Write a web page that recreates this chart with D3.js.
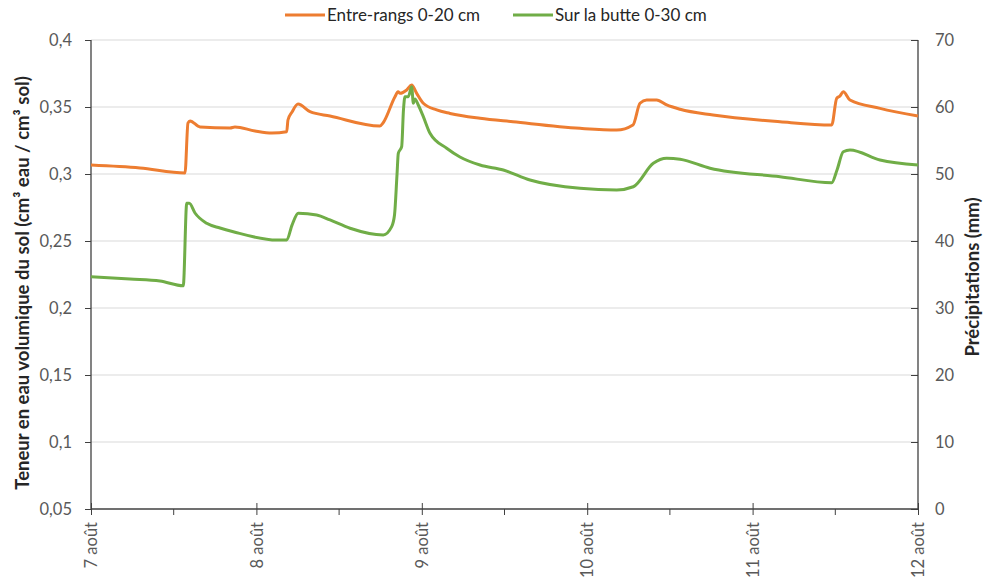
<!DOCTYPE html>
<html>
<head>
<meta charset="utf-8">
<script src="https://cdn.jsdelivr.net/npm/d3@7"></script>
<style>
  body { margin: 0; background: #fff; }
  text { font-family: Lato, "Open Sans", sans-serif; }
</style>
</head>
<body>
<div id="chart"></div>
<script>
'use strict';

// time in hours from 7 août 00:00, value in cm3/cm3
var entreRangsHours = [0, 7.1, 13.64, 14.07, 14.37, 15.82, 20.17, 20.89, 23.8, 26.26, 28.4, 28.58, 29.17, 30.04, 31.78, 34.68, 41.91, 42.37, 44.11, 44.55, 44.84, 45.81, 46.53, 47.26, 48.22, 50.16, 52.1, 56.45, 61.23, 70.96, 76.28, 78.64, 79.66, 80.63, 82.08, 83.54, 85.47, 90.26, 99.98, 107.48, 108.2, 108.68, 109.16, 110.13, 114.49, 120];
var entreRangsValues = [0.3067, 0.3045, 0.3007, 0.338, 0.3396, 0.3351, 0.3343, 0.3351, 0.3321, 0.3306, 0.3316, 0.3403, 0.3463, 0.3522, 0.3465, 0.3433, 0.3358, 0.3381, 0.3577, 0.3614, 0.3602, 0.3627, 0.3664, 0.3602, 0.3528, 0.3478, 0.3452, 0.3416, 0.339, 0.3341, 0.3328, 0.3366, 0.3528, 0.3552, 0.3552, 0.3515, 0.3483, 0.344, 0.339, 0.3366, 0.3565, 0.3582, 0.3614, 0.3552, 0.349, 0.3433];

var butteHours = [0, 5.66, 10.01, 13.39, 13.89, 14.26, 15.09, 16.79, 18.72, 20.65, 26.95, 28.4, 29.17, 30.08, 32.75, 34.68, 37.59, 42.41, 43.63, 44.04, 44.4, 44.59, 45.08, 45.34, 45.56, 46.04, 46.53, 46.77, 47.01, 47.49, 48.22, 49.19, 51.61, 53.54, 56.45, 59.83, 63.7, 70.96, 76.28, 78.69, 81.59, 83.54, 85.47, 89.82, 99.98, 107.48, 108.25, 109.16, 110.13, 114.49, 120];
var butteValues = [0.2234, 0.2216, 0.2201, 0.2166, 0.2781, 0.2781, 0.2709, 0.2632, 0.2597, 0.2569, 0.2507, 0.2507, 0.2619, 0.2707, 0.2694, 0.2657, 0.2595, 0.2545, 0.2607, 0.2694, 0.2993, 0.3154, 0.3204, 0.3478, 0.3577, 0.3577, 0.3651, 0.3528, 0.356, 0.3515, 0.3428, 0.3304, 0.3192, 0.3127, 0.3067, 0.303, 0.2955, 0.2893, 0.2881, 0.2905, 0.308, 0.3117, 0.311, 0.3043, 0.298, 0.2935, 0.303, 0.3166, 0.3179, 0.3104, 0.3067];

var dayLabels = ['7 août', '8 août', '9 août', '10 août', '11 août', '12 août'];
var leftTicks = [0.05, 0.1, 0.15, 0.2, 0.25, 0.3, 0.35, 0.4];
var rightTicks = [0, 10, 20, 30, 40, 50, 60, 70];
var seriesNames = ['Entre-rangs 0-20 cm', 'Sur la butte 0-30 cm'];
var seriesColors = ['#ED7D31', '#70AD47'];

var myChart = {};
myChart.w = 986;
myChart.h = 580;
myChart.plot = {left: 91, right: 918, top: 40, bottom: 509};
myChart.axisColor = '#404040';

myChart.run = function() {
    var p = myChart.plot;
    var svg = d3.select('#chart').append('svg')
        .attr('width', myChart.w)
        .attr('height', myChart.h);

    var x = d3.scaleLinear().domain([0, 120]).range([p.left, p.right]);
    var y = d3.scaleLinear().domain([0.05, 0.4]).range([p.bottom, p.top]);
    var y2 = d3.scaleLinear().domain([0, 70]).range([p.bottom, p.top]);

    // gridlines
    svg.append('g').selectAll('line')
        .data(leftTicks.filter(function(d) { return d > 0.05; }))
        .enter().append('line')
        .attr('x1', p.left).attr('x2', p.right)
        .attr('y1', function(d) { return y(d); })
        .attr('y2', function(d) { return y(d); })
        .style('stroke', '#d9d9d9')
        .style('stroke-width', 1);

    var fmt = function(d) { return String(+d.toFixed(2)).replace('.', ','); };

    var gL = svg.append('g')
        .attr('transform', 'translate(' + p.left + ',0)')
        .call(d3.axisLeft(y).tickValues(leftTicks).tickFormat(fmt).tickSize(6).tickPadding(13));
    var gR = svg.append('g')
        .attr('transform', 'translate(' + p.right + ',0)')
        .call(d3.axisRight(y2).tickValues(rightTicks).tickSize(-7).tickPadding(17));
    var dayHours = dayLabels.map(function(d, i) { return i * 24; });
    var gB = svg.append('g')
        .attr('transform', 'translate(0,' + p.bottom + ')')
        .call(d3.axisBottom(x).tickValues(dayHours)
            .tickFormat(function(d, i) { return dayLabels[i]; })
            .tickSize(6));
    gB.selectAll('.tick line').attr('y1', -6);
    gB.selectAll('.tick text')
        .attr('transform', 'rotate(-90)')
        .attr('text-anchor', 'end')
        .attr('x', -13)
        .attr('y', 0)
        .attr('dy', '0.35em');
    // minor ticks at noon
    svg.append('g').selectAll('line')
        .data(dayHours.slice(0, -1).map(function(d) { return d + 12; }))
        .enter().append('line')
        .attr('x1', function(d) { return x(d); })
        .attr('x2', function(d) { return x(d); })
        .attr('y1', p.bottom).attr('y2', p.bottom + 6)
        .style('stroke', myChart.axisColor);

    [gL, gR, gB].forEach(function(g) {
        g.select('.domain').remove();
        g.selectAll('.tick line').style('stroke', myChart.axisColor);
        g.selectAll('.tick text').style('fill', '#595959').style('font-size', '16.5px');
    });
    var frame = [[p.left, p.top, p.left, p.bottom], [p.right, p.top, p.right, p.bottom], [p.left, p.bottom, p.right, p.bottom]];
    svg.append('g').selectAll('line')
        .data(frame)
        .enter().append('line')
        .attr('x1', function(d) { return d[0]; }).attr('y1', function(d) { return d[1]; })
        .attr('x2', function(d) { return d[2]; }).attr('y2', function(d) { return d[3]; })
        .style('stroke', myChart.axisColor).style('stroke-width', 1.3);

    // series
    var line = d3.line()
        .curve(d3.curveMonotoneX)
        .x(function(d) { return x(d[0]); })
        .y(function(d) { return y(d[1]); });
    var series = [
        d3.zip(entreRangsHours, entreRangsValues),
        d3.zip(butteHours, butteValues)
    ];
    svg.append('g').selectAll('path')
        .data(series)
        .enter().append('path')
        .attr('d', line)
        .style('fill', 'none')
        .style('stroke', function(d, i) { return seriesColors[i]; })
        .style('stroke-width', 3)
        .style('stroke-linejoin', 'round');

    // axis titles
    svg.append('text')
        .attr('transform', 'translate(29,' + 283 + ') rotate(-90)')
        .attr('text-anchor', 'middle')
        .style('font-size', '18.5px').style('font-weight', 'bold').style('fill', '#262626')
        .text('Teneur en eau volumique du sol (cm³ eau / cm³ sol)');
    svg.append('text')
        .attr('transform', 'translate(979,' + 277 + ') rotate(-90)')
        .attr('text-anchor', 'middle')
        .style('font-size', '18.5px').style('font-weight', 'bold').style('fill', '#262626')
        .text('Précipitations (mm)');

    // legend
    var legendX = [285, 513];
    var leg = svg.append('g').selectAll('g')
        .data(seriesNames)
        .enter().append('g')
        .attr('transform', function(d, i) { return 'translate(' + legendX[i] + ',15)'; });
    leg.append('line')
        .attr('x1', 0).attr('x2', 40).attr('y1', 0).attr('y2', 0)
        .style('stroke', function(d, i) { return seriesColors[i]; })
        .style('stroke-width', 3);
    leg.append('text')
        .attr('x', 42).attr('dy', '0.35em')
        .style('font-size', '17px').style('fill', '#262626')
        .text(function(d) { return d; });
};

myChart.run();
</script>
</body>
</html>
